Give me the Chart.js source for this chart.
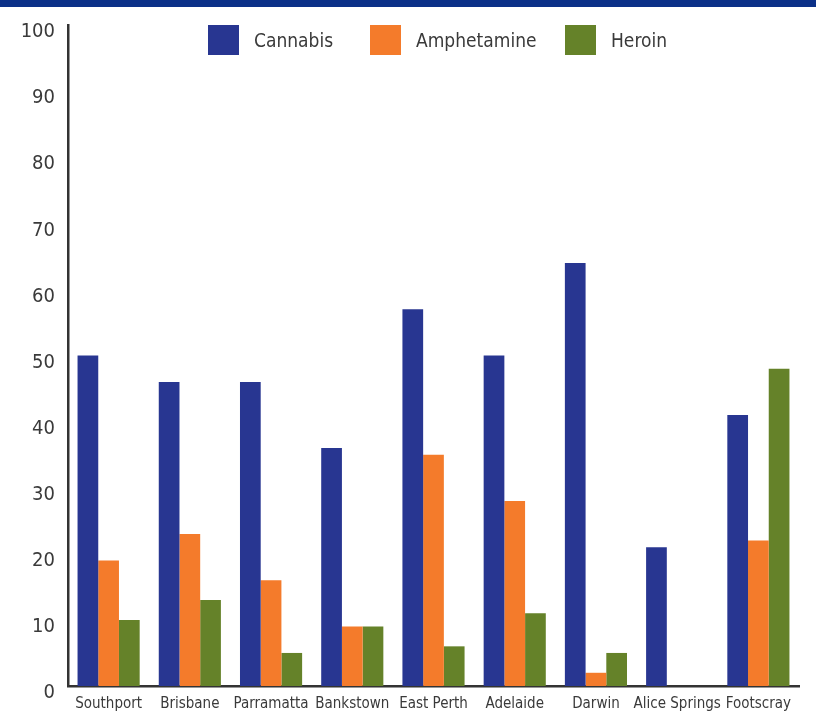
<!DOCTYPE html>
<html>
<head>
<meta charset="utf-8">
<script src="https://cdn.jsdelivr.net/npm/chart.js@4/dist/chart.umd.min.js"></script>
<style>
  body { margin: 0; background: #fff; }
  #wrap { position: relative; width: 816px; height: 718px; }
  #band { position: absolute; left: 0; top: 0; width: 816px; height: 7px; background: #0b3088; }
  #legend { font-family: 'Liberation Sans Narrow', 'DejaVu Sans Condensed', sans-serif; font-size: 19px; color: #3a3a3a; }
  .item { position: absolute; top: 25px; display: flex; align-items: center; height: 30px; }
  .box { width: 31px; height: 30px; margin-right: 15px; }
</style>
</head>
<body>
<div id="wrap">
  <canvas id="chart" width="816" height="718"></canvas>
  <div id="band"></div>
  <div id="legend"></div>
</div>
<script>
// sites and drug test results (%)
const sites = ['Southport', 'Brisbane', 'Parramatta', 'Bankstown', 'East Perth', 'Adelaide', 'Darwin', 'Alice Springs', 'Footscray'];
const cannabis = [50, 46, 46, 36, 57, 50, 64, 21, 41];
const amphetamine = [19, 23, 16, 9, 35, 28, 2, 0, 22];
const heroin = [10, 13, 5, 9, 6, 11, 5, 0, 48];
const seriesNames = ['Cannabis', 'Amphetamine', 'Heroin'];
const seriesColors = ['#283691', '#f47b2b', '#658229'];

const fontFamily = "'Liberation Sans Narrow', 'DejaVu Sans Condensed', sans-serif";
const textColor = '#3a3a3a';

const datasets = [cannabis, amphetamine, heroin].map((vals, i) => ({
    label: seriesNames[i],
    data: vals,
    backgroundColor: seriesColors[i],
    borderWidth: 0,
    barPercentage: 1,
    categoryPercentage: 0.765
}));

// legend as html, items placed like the original
const legendX = [208, 370, 565];
const legend = document.getElementById('legend');
seriesNames.forEach((name, i) => {
    const item = document.createElement('div');
    item.className = 'item';
    item.style.left = legendX[i] + 'px';
    const box = document.createElement('div');
    box.className = 'box';
    box.style.background = seriesColors[i];
    const label = document.createElement('span');
    label.textContent = name;
    item.appendChild(box);
    item.appendChild(label);
    legend.appendChild(item);
});

new Chart(document.getElementById('chart'), {
    type: 'bar',
    data: { labels: sites, datasets: datasets },
    options: {
        responsive: false,
        animation: false,
        layout: { padding: { top: 24, right: 17, left: 0, bottom: 0 } },
        plugins: { legend: { display: false }, tooltip: { enabled: false } },
        scales: {
            x: {
                grid: { display: false, drawTicks: false },
                border: { color: '#333', width: 2.5 },
                ticks: {
                    color: textColor,
                    font: { family: fontFamily, size: 15 },
                    padding: 9,
                    maxRotation: 0,
                    autoSkip: false
                },
                afterFit: scale => { scale.height = 32; }
            },
            y: {
                min: 0,
                max: 100,
                grid: { display: false, drawTicks: false },
                border: { color: '#333', width: 2.5 },
                ticks: {
                    stepSize: 10,
                    color: textColor,
                    font: { family: fontFamily, size: 20 },
                    padding: 13,
                    labelOffset: 7
                },
                afterFit: scale => { scale.width = 68; }
            }
        }
    }
});
</script>
</body>
</html>
